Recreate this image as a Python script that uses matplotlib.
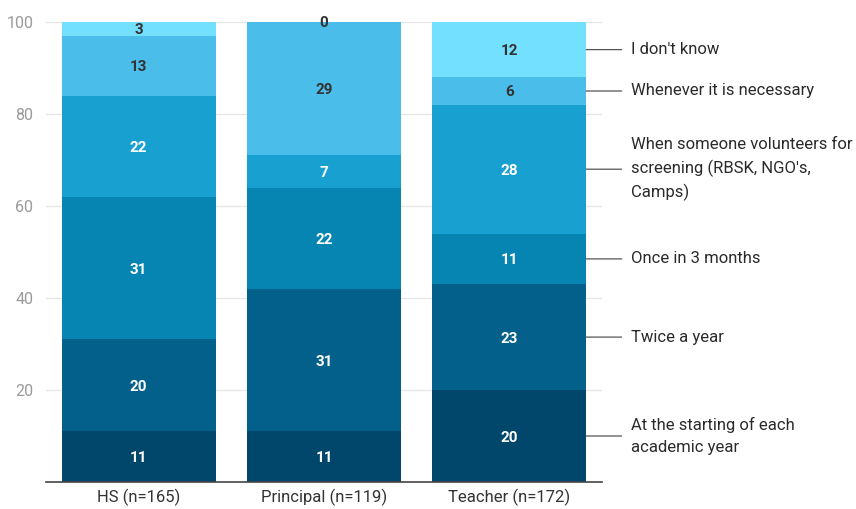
import matplotlib

matplotlib.use("Agg")
import matplotlib.pyplot as plt
import numpy as np

CATEGORIES = ["HS (n=165)", "Principal (n=119)", "Teacher (n=172)"]
SERIES = [
    "At the starting of each\nacademic year",
    "Twice a year",
    "Once in 3 months",
    "When someone volunteers for\nscreening (RBSK, NGO's,\nCamps)",
    "Whenever it is necessary",
    "I don't know",
]
VALUES = [
    [11, 11, 20],
    [20, 31, 23],
    [31, 22, 11],
    [22, 7, 28],
    [13, 29, 6],
    [3, 0, 12],
]
COLORS = ["#01466b", "#03608a", "#0685b2", "#17a0d0", "#4bbdea", "#73e0ff"]
TEXT_COLORS = ["white", "white", "white", "white", "#333333", "#333333"]

plt.rcParams["font.family"] = ["Roboto", "DejaVu Sans"]

fig = plt.figure(figsize=(8.56, 5.09), dpi=100)
ax = fig.add_axes([46 / 856, 1 - 482 / 509, 556 / 856, 460 / 509])

x = np.arange(len(CATEGORIES))
bottom = np.zeros(len(CATEGORIES))
for i, vals in enumerate(VALUES):
    vals = np.array(vals, dtype=float)
    ax.bar(x, vals, bottom=bottom, width=0.83, color=COLORS[i], zorder=2)
    for xi, v, b in zip(x, vals, bottom):
        ax.text(xi, b + v / 2, f"{int(v)}", ha="center", va="center_baseline",
                fontsize=11, fontweight="bold", color=TEXT_COLORS[i], zorder=3)
    # legend-style label to the right of the last bar
    mid = bottom[-1] + vals[-1] / 2
    ax.annotate(SERIES[i], xy=(x[-1] + 0.415, mid), xycoords="data",
                xytext=(x[-1] + 0.655, mid), textcoords="data",
                ha="left", va="center", fontsize=12, color="#2a2a2a",
                linespacing=1.55, annotation_clip=False,
                arrowprops=dict(arrowstyle="-", color="#555555", lw=0.9,
                                shrinkA=4.5, shrinkB=0))
    bottom += vals

ax.set_xlim(-0.5, 2.5)
ax.set_ylim(0, 100)
ax.set_yticks([20, 40, 60, 80, 100])
ax.set_xticks(x, CATEGORIES)
ax.tick_params(axis="y", length=0, pad=9, labelsize=11.5, labelcolor="#9a9a9a")
ax.tick_params(axis="x", length=0, pad=5, labelsize=12, labelcolor="#333333")
ax.grid(axis="y", color="#e6e6e6", lw=0.9, zorder=0)
for side in ["top", "right", "left"]:
    ax.spines[side].set_visible(False)
ax.spines["bottom"].set_color("#444444")
ax.spines["bottom"].set_linewidth(1.2)
ax.spines["bottom"].set_zorder(4)

fig.savefig("out.png", dpi=100)
